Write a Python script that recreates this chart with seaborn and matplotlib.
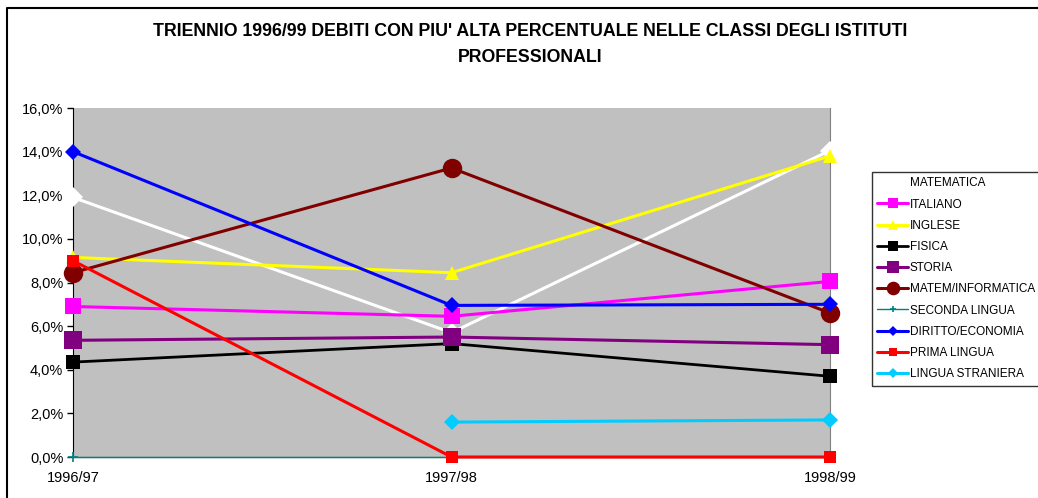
import pandas as pd
import numpy as np
import matplotlib
matplotlib.use("Agg")
import matplotlib.pyplot as plt
import seaborn as sns
from matplotlib.lines import Line2D

# --- data ---
anni = ["1996/97", "1997/98", "1998/99"]
matematica = [11.9, 5.7, 14.05]
italiano = [6.9, 6.45, 8.05]
inglese = [9.15, 8.45, 13.8]
fisica = [4.35, 5.2, 3.7]
storia = [5.35, 5.5, 5.15]
matem_informatica = [8.45, 13.25, 6.6]
seconda_lingua = [0.0, 0.0, 0.0]
diritto_economia = [14.0, 6.95, 7.0]
prima_lingua = [9.0, 0.0, 0.0]
lingua_straniera = [np.nan, 1.6, 1.7]

serie = {
    "MATEMATICA": matematica,
    "ITALIANO": italiano,
    "INGLESE": inglese,
    "FISICA": fisica,
    "STORIA": storia,
    "MATEM/INFORMATICA": matem_informatica,
    "SECONDA LINGUA": seconda_lingua,
    "DIRITTO/ECONOMIA": diritto_economia,
    "PRIMA LINGUA": prima_lingua,
    "LINGUA STRANIERA": lingua_straniera,
}

# colour, marker, marker size, line width
stili = {
    "MATEMATICA": ("white", "D", 10, 2.2),
    "ITALIANO": ("#ff00ff", "s", 11, 2.2),
    "INGLESE": ("#ffff00", "^", 10, 2.2),
    "FISICA": ("black", "s", 10, 2.0),
    "STORIA": ("#800080", "s", 13, 2.2),
    "MATEM/INFORMATICA": ("#800000", "o", 14, 2.2),
    "SECONDA LINGUA": ("#008080", "+", 7, 1.0),
    "DIRITTO/ECONOMIA": ("#0000ff", "D", 8, 2.2),
    "PRIMA LINGUA": ("#ff0000", "s", 9, 2.2),
    "LINGUA STRANIERA": ("#00ccff", "D", 8, 2.2),
}

rows = []
for nome, valori in serie.items():
    for i, v in enumerate(valori):
        rows.append({"serie": nome, "pos": i, "anno": anni[i], "valore": v / 100})
df = pd.DataFrame(rows)

sns.set_style("white")
plt.rcParams["font.family"] = ["Liberation Sans", "DejaVu Sans"]
plt.rcParams["text.color"] = "black"
plt.rcParams["xtick.color"] = "black"
plt.rcParams["ytick.color"] = "black"

fig = plt.figure(figsize=(10.38, 4.98), dpi=100)
ax = fig.add_axes([73 / 1038, 41 / 498, 757 / 1038, 349 / 498])
ax.set_facecolor("#c0c0c0")

for nome in serie:
    col, mk, ms, lw = stili[nome]
    sub = df[df["serie"] == nome].dropna()
    sns.lineplot(data=sub, x="pos", y="valore", ax=ax, color=col, marker=mk,
                 markersize=ms, linewidth=lw, markeredgecolor=col,
                 markeredgewidth=1.2 if mk == "+" else 0, label=nome,
                 clip_on=False, zorder=3)

ax.set_xlim(0, 2)
ax.set_ylim(0, 0.16)
ax.set_xticks(range(len(anni)))
ax.set_xticklabels(anni, fontsize=10.5)
yt = np.arange(0, 0.161, 0.02)
ax.set_yticks(yt)
ax.set_yticklabels([f"{v * 100:.1f}%".replace(".", ",") for v in yt], fontsize=10.5)
ax.tick_params(axis="y", direction="out", length=4, width=1, color="black", pad=3, left=True)
ax.tick_params(axis="x", length=0, pad=10)
ax.set_xlabel("")
ax.set_ylabel("")
ax.grid(False)

ax.spines["top"].set_visible(False)
ax.spines["right"].set_color("#808080")
ax.spines["left"].set_color("black")
ax.spines["bottom"].set_color("black")

fig.text(530 / 1038, 1 - 32 / 498, "TRIENNIO 1996/99 DEBITI CON PIU' ALTA PERCENTUALE NELLE CLASSI DEGLI ISTITUTI",
         ha="center", va="center", fontsize=12.8, fontweight="bold", color="black")
fig.text(530 / 1038, 1 - 57 / 498, "PROFESSIONALI",
         ha="center", va="center", fontsize=12.8, fontweight="bold", color="black")

leg = ax.legend(loc="upper left", bbox_to_anchor=(872 / 1038, 1 - 172 / 498),
                bbox_transform=fig.transFigure, fontsize=8.5, frameon=True,
                fancybox=False, edgecolor="black", borderpad=0.45,
                labelspacing=0.78, handlelength=2.6, handletextpad=0.15,
                borderaxespad=0, markerscale=0.7)
leg.get_frame().set_linewidth(1.0)

# outer chart border (only top and left visible in the reference)
fig.lines.append(Line2D([7 / 1038, 7 / 1038, 1.0], [0.0, 1 - 8 / 498, 1 - 8 / 498],
                        transform=fig.transFigure, color="black", linewidth=1.5))

fig.savefig("out.png", dpi=100)
